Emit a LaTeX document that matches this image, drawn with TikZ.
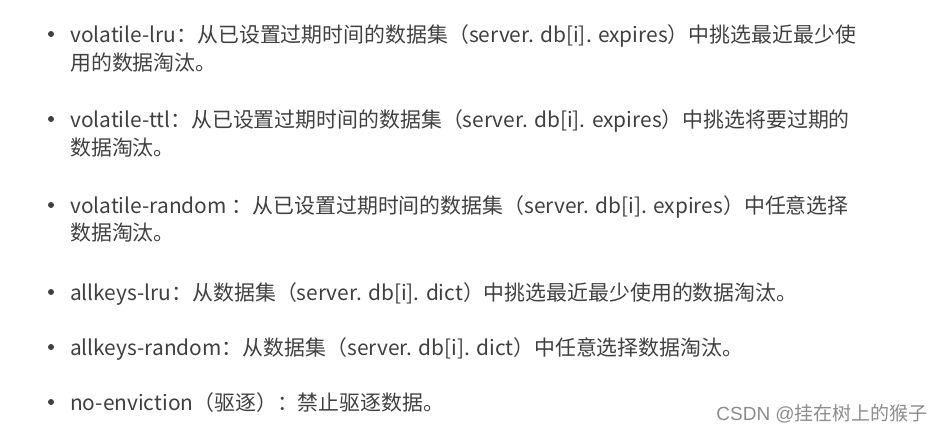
\documentclass[tikz,border=0pt]{standalone}
\usepackage{fontspec}
\setmainfont{Noto Sans CJK SC}
\newfontfamily\wmlatin{Liberation Sans}
\definecolor{txt}{HTML}{404040}
\definecolor{wm}{HTML}{8C8C8C}
\tikzset{
  line/.style={anchor=base west, inner sep=0pt, text=txt, font=\fontsize{20.9pt}{24pt}\selectfont},
  dot/.style={fill=txt, circle, inner sep=0pt, minimum size=6pt},
  wmark/.style={anchor=base east, inner sep=0pt, text=wm, font=\fontsize{19pt}{22pt}\selectfont}
}
\begin{document}
\begin{tikzpicture}[x=1pt,y=1pt]
\useasboundingbox (0,0) rectangle (942,-437);
\node[line] (l1) at (70,-42) {volatile-lru：从已设置过期时间的数据集（server. db[i]. expires）中挑选最近最少使};
\node[line] (l1b) at (70,-70) {用的数据淘汰。};
\node[line] (l2) at (70,-127) {volatile-ttl：从已设置过期时间的数据集（server. db[i]. expires）中挑选将要过期的};
\node[line] (l2b) at (70,-155) {数据淘汰。};
\node[line] (l3) at (70,-213) {volatile-random\kern5pt：从已设置过期时间的数据集（server. db[i]. expires）中任意选择};
\node[line] (l3b) at (70,-240) {数据淘汰。};
\node[line] (l4) at (70,-300) {allkeys-lru：从数据集（server. db[i]. dict）中挑选最近最少使用的数据淘汰。};
\node[line] (l5) at (70,-355) {allkeys-random：从数据集（server. db[i]. dict）中任意选择数据淘汰。};
\node[line] (l6) at (70,-410) {no-enviction（驱逐）：禁止驱逐数据。};
\node[dot] (b1) at (51,-34) {};
\node[dot] (b2) at (51,-119) {};
\node[dot] (b3) at (51,-205) {};
\node[dot] (b4) at (51,-292) {};
\node[dot] (b5) at (51,-347) {};
\node[dot] (b6) at (51,-402) {};
\node[wmark] (wm) at (928,-420) {{\wmlatin CSDN @}挂在树上的猴子};
\end{tikzpicture}
\end{document}
